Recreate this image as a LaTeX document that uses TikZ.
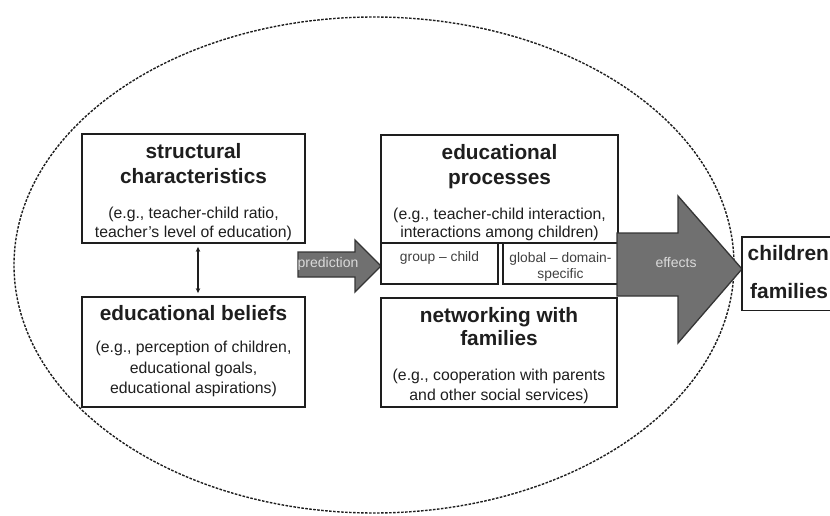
\documentclass[tikz,border=0pt]{standalone}
\usepackage{fontspec}
\setmainfont{Liberation Sans}
\usetikzlibrary{arrows.meta}
\definecolor{ink}{HTML}{1E1E1E}
\definecolor{arrfill}{HTML}{707070}
\definecolor{arrtext}{HTML}{DADADA}
\tikzset{
  box/.style={draw=ink, line width=1.8pt, rectangle, inner sep=0pt},
  openbox/.style={rectangle, inner sep=0pt},
  ttl/.style={anchor=base, inner sep=0pt, text=ink, font=\bfseries\fontsize{20.8}{24}\selectfont},
  bdy/.style={anchor=base, inner sep=0pt, text=ink, font=\fontsize{15.8}{19}\selectfont},
  cell/.style={anchor=base, inner sep=0pt, text=ink!85, font=\fontsize{13.8}{16}\selectfont},
  arrlbl/.style={inner sep=0pt, text=arrtext, font=\fontsize{14}{16}\selectfont},
  bigarrow/.style={fill=arrfill, draw=ink!90, line width=1.3pt, line join=miter},
}
\begin{document}
\begin{tikzpicture}[x=1pt,y=-1pt]
\useasboundingbox (0,0) rectangle (830,516);
\clip (0,0) rectangle (830,516);
% context ellipse
\draw[ink, line width=1.4pt, dash pattern=on 2.6pt off 1.4pt] (374,265) ellipse [x radius=360, y radius=248];

% left column boxes
\node[box, minimum width=223pt, minimum height=109pt] (sc) at (193.5,188.5) {};
\node[box, minimum width=223pt, minimum height=110pt] (eb) at (193.5,352) {};
\node[ttl] (sct1) at (193.5,158) {structural};
\node[ttl] (sct2) at (193.5,183.5) {characteristics};
\node[bdy] (scb1) at (193.5,218) {(e.g., teacher-child ratio,};
\node[bdy] (scb2) at (193.5,237) {teacher’s level of education)};
\node[ttl] (ebt) at (193.5,320) {educational beliefs};
\node[bdy] (ebb1) at (193.5,352) {(e.g., perception of children,};
\node[bdy] (ebb2) at (193.5,373) {educational goals,};
\node[bdy] (ebb3) at (193.5,393) {educational aspirations)};
\draw[ink, line width=1.1pt, {Stealth[length=5pt,width=4.5pt]}-{Stealth[length=5pt,width=4.5pt]}]
  ([xshift=4.5pt,yshift=-3pt]sc.south) -- ([xshift=4.5pt,yshift=3pt]eb.north);

% prediction arrow
\draw[bigarrow] (298,252) -- (355,252) -- (355,240) -- (381,266) -- (355,292) -- (355,277) -- (298,277) -- cycle;
\node[arrlbl] (pred) at (328,264) {prediction};

% middle column boxes
\node[box, minimum width=237pt, minimum height=108pt] (ep) at (499.5,189) {};
\node[box, minimum width=117pt, minimum height=41pt] (gc) at (439.5,263.5) {};
\node[box, minimum width=115pt, minimum height=41pt] (gd) at (560.5,263.5) {};
\node[box, minimum width=236pt, minimum height=109pt] (nf) at (499,352.5) {};
\node[ttl] (ept1) at (499.5,160) {educational};
\node[ttl] (ept2) at (499.5,184.5) {processes};
\node[bdy] (epb1) at (499.5,219) {(e.g., teacher-child interaction,};
\node[bdy] (epb2) at (499.5,237) {interactions among children)};
\node[cell] (gct) at (439.5,261) {group – child};
\node[cell] (gdt1) at (560.5,262) {global – domain-};
\node[cell] (gdt2) at (560.5,278) {specific};
\node[ttl] (nft1) at (499,322) {networking with};
\node[ttl] (nft2) at (499,345) {families};
\node[bdy] (nfb1) at (499,380) {(e.g., cooperation with parents};
\node[bdy] (nfb2) at (499,400) {and other social services)};

% effects arrow
\draw[bigarrow] (617,233) -- (678,233) -- (678,196) -- (742,269) -- (678,343) -- (678,296) -- (617,296) -- cycle;
\node[arrlbl] (eff) at (676,263) {effects};

% outcome box (running off the page edge, so no right side)
\node[openbox, anchor=north west, minimum width=120pt, minimum height=73pt] (cf) at (742,237) {};
\draw[ink, line width=1.8pt] (cf.north east) -- (cf.north west) -- (cf.south west) -- (cf.south east);
\node[ttl, anchor=base west, font=\bfseries\fontsize{20.9}{24}\selectfont] (cft1) at (747.5,260) {children};
\node[ttl, anchor=base west, font=\bfseries\fontsize{20.9}{24}\selectfont] (cft2) at (750,298) {families};
\end{tikzpicture}
\end{document}
